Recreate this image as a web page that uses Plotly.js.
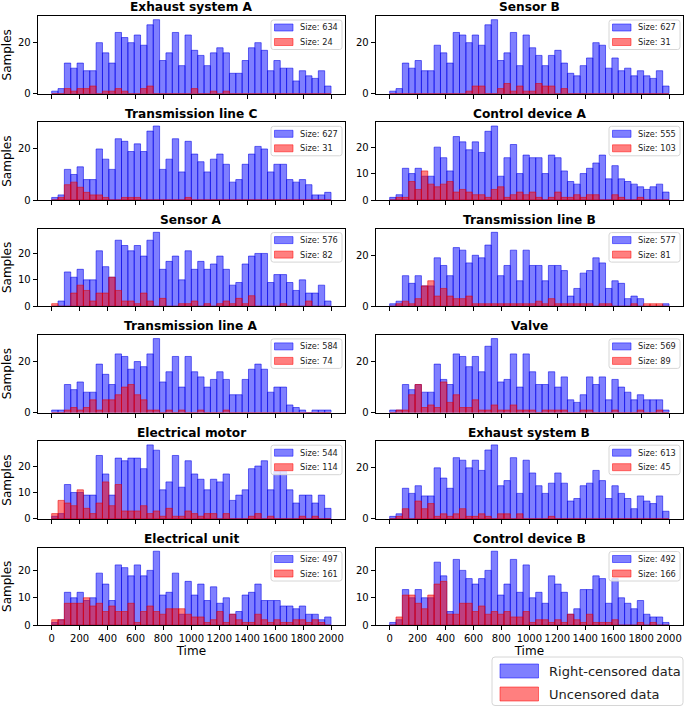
<!DOCTYPE html>
<html><head><meta charset="utf-8">
<script src="https://cdn.plot.ly/plotly-3.0.1.min.js"></script>
<style>html,body{margin:0;padding:0;background:#fff}#chart{width:685px;height:710px}</style>
</head><body><div id="chart"></div>
<script>
// ---------- data ----------
const panelTitles = ["Exhaust system A","Sensor B","Transmission line C","Control device A","Sensor A","Transmission line B","Transmission line A","Valve","Electrical motor","Exhaust system B","Electrical unit","Control device B"];
const rightCensoredSizes = [634,627,627,555,576,577,584,569,544,613,497,492];
const uncensoredSizes    = [24,31,31,103,82,81,74,89,114,45,161,166];
const timeTicks = [0,200,400,600,800,1000,1200,1400,1600,1800,2000];
const timeMin = 0, timeMax = 2000, binCount = 44;

const rc_ExhaustSystemA = [1,2,12,10,12,9,9,20,16,12,24,22,20,23,19,27,29,13,16,24,11,23,17,15,11,16,18,16,8,8,13,18,20,17,9,13,10,10,5,9,7,6,9,3];
const un_ExhaustSystemA = [0,0,2,1,2,2,3,0,1,1,2,1,0,0,2,3,0,0,0,0,0,0,2,0,0,1,0,1,0,0,0,0,0,0,0,0,0,0,0,0,0,0,0,0];
const rc_SensorB = [1,2,12,10,13,9,9,19,16,12,24,23,20,23,19,27,29,13,16,24,11,23,18,15,11,15,17,12,8,7,11,14,20,19,10,14,9,10,7,9,7,6,9,3];
const un_SensorB = [0,0,0,0,0,0,0,0,0,0,0,0,1,3,3,0,0,2,4,1,3,1,1,4,3,3,0,2,0,0,0,0,0,0,0,0,0,0,0,0,0,0,0,0];
const rc_TransmissionLineC = [1,2,12,10,13,8,8,20,16,12,24,23,19,22,19,27,29,12,16,24,11,23,18,15,11,16,18,14,7,8,14,18,21,20,11,14,14,8,7,8,6,2,2,3];
const un_TransmissionLineC = [0,1,6,7,5,3,2,2,1,0,0,1,1,1,0,0,0,0,0,0,0,1,0,0,0,0,0,0,0,0,0,0,0,0,0,0,0,0,0,0,0,0,0,0];
const rc_ControlDeviceA = [1,2,12,10,12,9,9,20,16,11,24,22,19,22,18,26,28,9,16,21,10,17,16,16,10,17,16,11,7,6,10,12,14,17,8,13,8,7,6,5,4,5,6,3];
const un_ControlDeviceA = [0,1,1,7,4,11,6,5,6,7,3,4,3,2,2,1,4,5,1,2,3,2,3,1,0,1,3,1,1,2,1,2,2,0,0,2,1,0,0,1,0,0,0,0];
const rc_SensorA = [0,2,13,11,14,10,10,21,15,11,25,23,21,23,19,25,28,14,17,19,10,21,14,17,14,16,19,14,8,9,16,19,20,20,9,12,12,9,6,10,5,5,8,2];
const un_SensorA = [1,0,0,5,8,6,2,5,5,11,6,2,2,1,5,2,0,3,0,0,1,1,2,0,1,0,1,2,1,3,1,4,0,0,0,0,1,0,0,0,2,0,0,0];
const rc_TransmissionLineB = [1,2,12,9,12,8,8,19,16,12,23,22,17,20,19,24,29,12,16,22,10,22,16,16,10,16,16,14,4,7,13,14,19,17,7,10,9,3,4,3,0,0,0,1];
const un_TransmissionLineB = [0,1,2,1,3,8,10,4,7,4,3,3,4,1,1,1,1,1,1,1,1,1,1,2,1,3,1,1,1,1,1,1,0,1,1,0,0,0,1,0,1,1,1,0];
const rc_TransmissionLineA = [1,1,11,9,12,8,8,19,15,11,23,22,17,20,18,23,29,12,16,22,10,22,16,14,10,13,16,13,7,7,13,17,19,17,8,10,10,3,2,1,0,1,1,1];
const un_TransmissionLineA = [0,0,1,2,1,2,5,1,5,5,7,10,11,7,5,1,1,0,1,0,1,0,0,1,0,0,0,1,0,0,0,0,0,0,0,0,0,0,0,0,0,0,0,0];
const rc_Valve = [1,1,11,9,11,8,8,19,13,11,23,22,18,22,16,26,29,12,13,23,10,23,16,11,11,16,10,14,5,4,7,14,11,14,5,13,10,8,5,7,5,5,5,1];
const un_Valve = [0,1,1,7,11,2,3,2,12,4,7,2,2,5,1,1,3,1,1,3,1,1,1,0,1,1,1,1,0,0,1,1,0,0,0,1,0,0,0,1,0,0,1,0];
const rc_ElectricalMotor = [1,2,13,10,10,9,9,24,17,9,23,22,23,23,19,28,26,11,14,24,12,22,17,15,11,15,14,17,7,9,11,19,20,22,11,18,18,11,6,9,9,6,9,4];
const un_ElectricalMotor = [2,7,6,5,11,4,2,6,14,5,13,3,3,3,5,2,3,1,4,1,1,3,2,1,2,2,0,2,0,0,0,1,2,0,1,0,0,0,0,1,0,1,0,0];
const rc_ExhaustSystemB = [1,2,12,10,13,9,9,20,16,12,24,23,20,23,19,27,29,13,15,24,10,23,18,13,10,14,18,14,7,8,13,14,19,15,8,13,10,8,4,9,7,6,9,3];
const un_ExhaustSystemB = [0,1,4,0,7,4,6,1,2,1,2,4,1,1,2,1,0,2,2,0,2,0,0,0,0,1,0,0,0,0,0,0,0,0,0,0,0,0,0,0,0,0,0,0];
const rc_ElectricalUnit = [1,2,12,10,12,9,10,19,15,9,22,21,18,22,18,20,27,11,12,19,4,16,11,15,9,14,8,10,4,5,11,12,15,9,9,9,7,7,6,7,4,4,2,3];
const un_ElectricalUnit = [2,2,8,8,8,10,7,8,5,7,5,5,8,1,5,7,5,4,6,6,6,4,3,3,1,2,5,1,4,2,1,1,4,2,1,2,1,1,2,2,1,2,1,0];
const rc_ControlDeviceB = [1,2,13,10,13,10,10,23,18,5,24,20,17,15,17,20,27,11,15,24,12,22,10,12,8,18,15,12,4,6,13,13,18,17,8,17,10,8,6,9,4,3,3,1];
const un_ControlDeviceB = [0,3,11,11,8,6,11,15,16,4,4,8,8,5,7,4,5,4,5,3,3,5,1,2,2,1,2,1,4,2,1,4,1,1,1,2,0,0,0,1,0,1,0,0];

const rightCensoredSeries = [rc_ExhaustSystemA, rc_SensorB, rc_TransmissionLineC, rc_ControlDeviceA, rc_SensorA, rc_TransmissionLineB, rc_TransmissionLineA, rc_Valve, rc_ElectricalMotor, rc_ExhaustSystemB, rc_ElectricalUnit, rc_ControlDeviceB];
const uncensoredSeries = [un_ExhaustSystemA, un_SensorB, un_TransmissionLineC, un_ControlDeviceA, un_SensorA, un_TransmissionLineB, un_TransmissionLineA, un_Valve, un_ElectricalMotor, un_ExhaustSystemB, un_ElectricalUnit, un_ControlDeviceB];

// ---------- style / layout ----------
const W = 685, H = 710;
const yTickStep = [20,20,20,10,10,20,20,20,10,20,10,10];
const colLeft = [37.7, 375.7], colWidth = 307.3;
const rowTop = [16, 122.3, 228.6, 334.9, 441.2, 547.5], rowHeight = 77.7;
const BLUE = 'rgba(0,0,255,0.5)', RED = 'rgba(255,0,0,0.5)';
const FONT = 'DejaVu Sans, sans-serif';

const binWidth = (timeMax - timeMin) / binCount;
const binCenters = Array.from({length: binCount}, (_, i) => timeMin + (i + 0.5) * binWidth);

const px = x => x / W, py = y => 1 - y / H;
function roundRect(x0, y0, x1, y1, r) {
  const rx = r / W, ry = r / H;
  const X0 = px(x0), X1 = px(x1), Y0 = py(y0), Y1 = py(y1);
  return `M${X0+rx},${Y0} L${X1-rx},${Y0} Q${X1},${Y0} ${X1},${Y0-ry} L${X1},${Y1+ry} Q${X1},${Y1} ${X1-rx},${Y1} L${X0+rx},${Y1} Q${X0},${Y1} ${X0},${Y1+ry} L${X0},${Y0-ry} Q${X0},${Y0} ${X0+rx},${Y0} Z`;
}

const data = [], shapes = [], annotations = [];
const layout = {
  width: W, height: H, margin: {l:0, r:0, t:0, b:0},
  paper_bgcolor: '#fff', plot_bgcolor: '#fff',
  barmode: 'overlay', bargap: 0, showlegend: false,
  font: {family: FONT, color: '#000'},
  shapes, annotations
};

panelTitles.forEach((title, p) => {
  const n = p + 1, row = Math.floor(p / 2), col = p % 2;
  const xa = n === 1 ? 'x' : 'x' + n, ya = n === 1 ? 'y' : 'y' + n;
  const rc = rightCensoredSeries[p], un = uncensoredSeries[p];
  data.push({type: 'bar', x: binCenters, y: rc, width: binWidth, xaxis: xa, yaxis: ya,
    name: 'Right-censored data', marker: {color: BLUE, line: {color: 'rgba(0,0,230,0.55)', width: 1}}, hoverinfo: 'skip'});
  data.push({type: 'bar', x: binCenters, y: un, width: binWidth, xaxis: xa, yaxis: ya,
    name: 'Uncensored data', marker: {color: RED, line: {color: 'rgba(230,0,0,0.55)', width: 1}}, hoverinfo: 'skip'});

  const left = colLeft[col], right = left + colWidth, top = rowTop[row], bottom = top + rowHeight;
  const ymax = Math.max(...rc, ...un) * 1.05;
  const axCommon = {showline: true, mirror: true, linecolor: '#000', linewidth: 1, zeroline: false, showgrid: false,
    ticks: 'outside', ticklen: 4, tickwidth: 1, tickcolor: '#000', tickfont: {family: FONT, size: 10, color: '#000'}, tickangle: 0};
  layout[n === 1 ? 'xaxis' : 'xaxis' + n] = Object.assign({}, axCommon, {
    domain: [px(left), px(right)], anchor: ya, range: [-100, 2100], tickmode: 'array', tickvals: timeTicks,
    ticktext: timeTicks.map(String), showticklabels: row === 5,
    title: row === 5 ? {text: 'Time', font: {family: FONT, size: 12}, standoff: 2} : undefined
  });
  layout[n === 1 ? 'yaxis' : 'yaxis' + n] = Object.assign({}, axCommon, {
    domain: [py(bottom), py(top)], anchor: xa, range: [0, ymax], tick0: 0, dtick: yTickStep[p],
    title: col === 0 ? {text: 'Samples', font: {family: FONT, size: 12}, standoff: 4} : undefined
  });

  // panel title
  annotations.push({xref: 'paper', yref: 'paper', x: px((left + right) / 2), y: py(top - 8.5), yanchor: 'middle', xanchor: 'center',
    borderpad: 0, showarrow: false, text: '<b>' + title + '</b>', font: {family: FONT, size: 12.2, color: '#000'}});

  // panel legend
  const bx1 = right - 3, bx0 = bx1 - 71, by0 = top + 4, by1 = top + 33.5;
  shapes.push({type: 'path', xref: 'paper', yref: 'paper', layer: 'above', path: roundRect(bx0, by0, bx1, by1, 2.5),
    fillcolor: 'rgba(255,255,255,0.8)', line: {color: '#d6d6d6', width: 1}});
  const items = [[BLUE, 'Size: ' + rightCensoredSizes[p], top + 11.5], [RED, 'Size: ' + uncensoredSizes[p], top + 26]];
  items.forEach(([c, txt, cy]) => {
    shapes.push({type: 'rect', xref: 'paper', yref: 'paper', layer: 'above', x0: px(bx0 + 3.5), x1: px(bx0 + 22), y0: py(cy - 3.5), y1: py(cy + 3.5),
      fillcolor: c, line: {color: c, width: 1}});
    annotations.push({xref: 'paper', yref: 'paper', x: px(bx0 + 26.5), y: py(cy), xanchor: 'left', yanchor: 'middle', showarrow: false,
      text: txt, font: {family: FONT, size: 8.2, color: '#222'}});
  });
});

// global legend
shapes.push({type: 'path', xref: 'paper', yref: 'paper', layer: 'above', path: roundRect(492, 657, 683, 705.5, 3),
  fillcolor: 'rgba(255,255,255,0.8)', line: {color: '#d6d6d6', width: 1}});
[[BLUE, 'Right-censored data', 671], [RED, 'Uncensored data', 694]].forEach(([c, txt, cy]) => {
  shapes.push({type: 'rect', xref: 'paper', yref: 'paper', layer: 'above', x0: px(500), x1: px(538.5), y0: py(cy - 7), y1: py(cy + 7),
    fillcolor: c, line: {color: c, width: 1}});
  annotations.push({xref: 'paper', yref: 'paper', x: px(547), y: py(cy), xanchor: 'left', yanchor: 'middle', showarrow: false,
    text: txt, font: {family: FONT, size: 13, color: '#222'}});
});

Plotly.newPlot('chart', data, layout, {staticPlot: true, displayModeBar: false});
</script>
</body></html>
